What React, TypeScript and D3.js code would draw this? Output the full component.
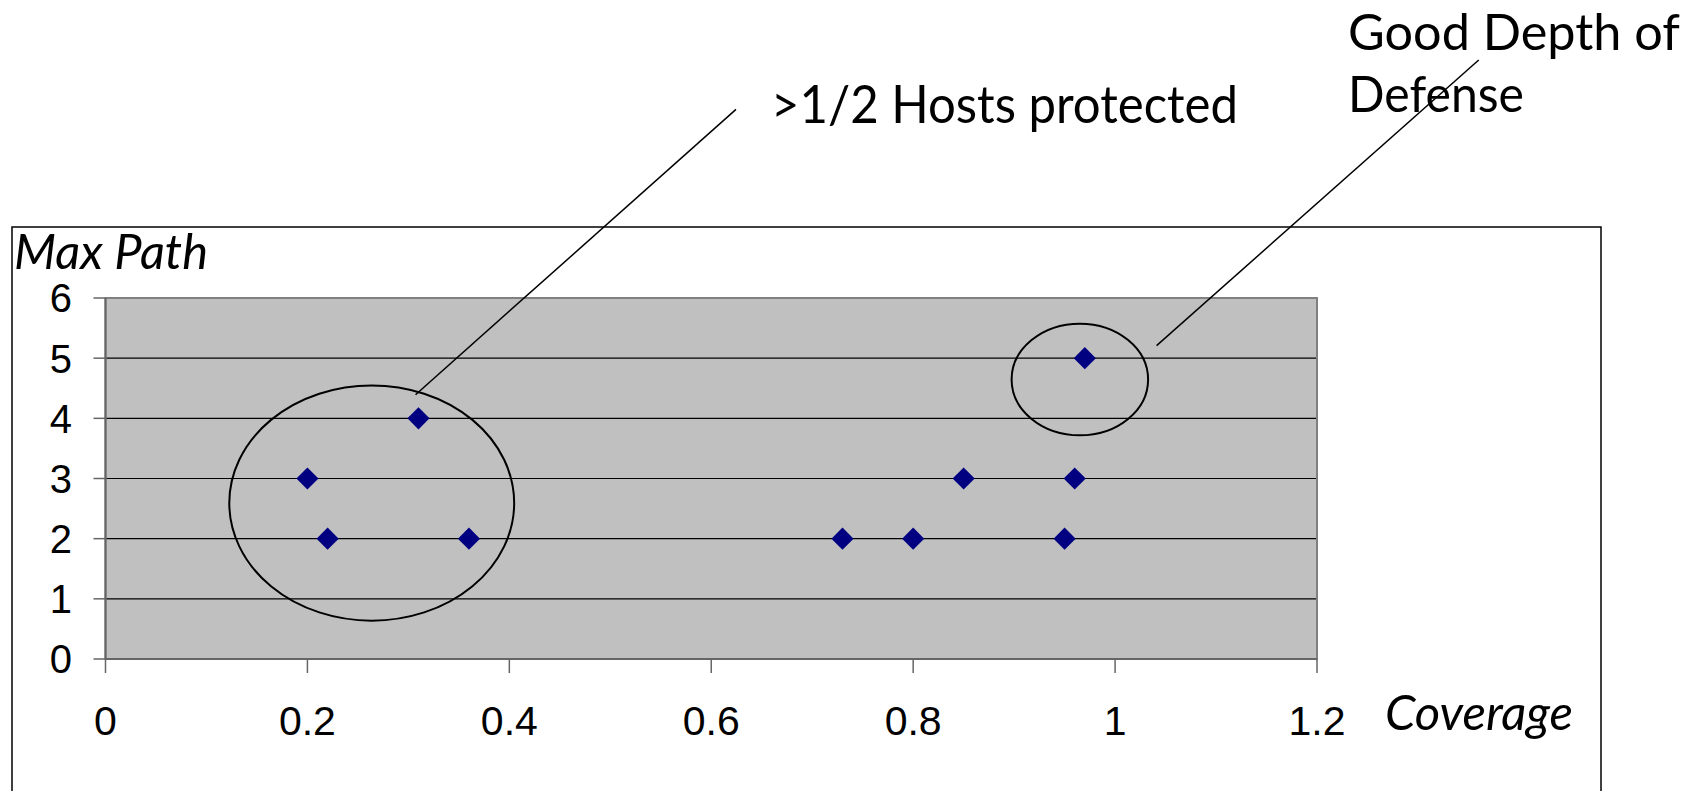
import React from "react";
import * as d3 from "d3";

const coverage = [0.2, 0.22, 0.31, 0.36, 0.73, 0.8, 0.85, 0.95, 0.96, 0.97];
const maxPath = [3, 2, 4, 2, 2, 2, 3, 2, 3, 5];
const xTicks = [0, 0.2, 0.4, 0.6, 0.8, 1, 1.2];
const yTicks = [0, 1, 2, 3, 4, 5, 6];
const xTickLabels = ["0", "0.2", "0.4", "0.6", "0.8", "1", "1.2"];
const yTickLabels = ["0", "1", "2", "3", "4", "5", "6"];

// annotation groups in data units: [cx, cy, rx, ry]
const groupEllipses = [
  [0.2637, 2.592, 0.1411, 1.955],
  [0.9651, 4.645, 0.0676, 0.928],
];
// leader lines in data units: [x1, y1, x2, y2]
const leaderLines = [
  [0.3071, 4.393, 0.6245, 9.135],
  [1.0411, 5.208, 1.3602, 9.955],
];

const W = 1700;
const H = 791;
const plot = { left: 105.5, right: 1317, top: 298, bottom: 659 };
const gill = "'Lato', 'Open Sans', sans-serif";
const arial = "'Liberation Sans', Arial, sans-serif";

export default function App() {
  const x = d3.scaleLinear().domain([0, 1.2]).range([plot.left, plot.right]);
  const y = d3.scaleLinear().domain([0, 6]).range([plot.bottom, plot.top]);
  const diamond = d3.symbol().type(d3.symbolDiamond2).size(2 * 12.5 * 12.5)();

  return (
    <svg width={W} height={H} style={{ position: "absolute", left: 0, top: 0, background: "#fff" }}>
      <rect x={12} y={227} width={1589} height={700} fill="#fff" stroke="#000" strokeWidth={1.5} />
      <rect
        x={plot.left}
        y={plot.top}
        width={plot.right - plot.left}
        height={plot.bottom - plot.top}
        fill="#C0C0C0"
      />
      {yTicks.filter((t) => t > 0 && t < 6).map((t) => (
        <line key={"g" + t} x1={plot.left} x2={plot.right} y1={y(t)} y2={y(t)} stroke="#000" strokeWidth={1.2} />
      ))}
      <rect
        x={plot.left}
        y={plot.top}
        width={plot.right - plot.left}
        height={plot.bottom - plot.top}
        fill="none"
        stroke="#808080"
        strokeWidth={2}
      />
      <line x1={plot.left} x2={plot.left} y1={plot.top} y2={plot.bottom} stroke="#666" strokeWidth={2} />
      <line x1={plot.left} x2={plot.right} y1={plot.bottom} y2={plot.bottom} stroke="#666" strokeWidth={2} />
      {yTicks.map((t, i) => (
        <g key={"yt" + t}>
          <line x1={plot.left - 12} x2={plot.left} y1={y(t)} y2={y(t)} stroke="#666" strokeWidth={1.5} />
          <text x={72} y={y(t)} dy="0.36em" textAnchor="end" fontFamily={arial} fontSize={40} fill="#000">
            {yTickLabels[i]}
          </text>
        </g>
      ))}
      {xTicks.map((t, i) => (
        <g key={"xt" + t}>
          <line x1={x(t)} x2={x(t)} y1={plot.bottom} y2={plot.bottom + 14} stroke="#666" strokeWidth={1.5} />
          <text x={x(t)} y={735} textAnchor="middle" fontFamily={arial} fontSize={41} fill="#000">
            {xTickLabels[i]}
          </text>
        </g>
      ))}
      {coverage.map((c, i) => (
        <path key={"p" + i} d={diamond!} transform={`translate(${x(c)},${y(maxPath[i])})`} fill="#000080" />
      ))}
      {groupEllipses.map(([cx, cy, rx, ry], i) => (
        <ellipse
          key={"e" + i}
          cx={x(cx)}
          cy={y(cy)}
          rx={x(rx) - x(0)}
          ry={y(0) - y(ry)}
          fill="none"
          stroke="#000"
          strokeWidth={2}
        />
      ))}
      {leaderLines.map(([x1, y1, x2, y2], i) => (
        <line key={"l" + i} x1={x(x1)} y1={y(y1)} x2={x(x2)} y2={y(y2)} stroke="#000" strokeWidth={1.5} />
      ))}
      <text x={14} y={269} fontFamily={gill} fontStyle="italic" fontSize={48} fill="#000" textLength={194} lengthAdjust="spacingAndGlyphs">
        Max Path
      </text>
      <text x={1385} y={730} fontFamily={gill} fontStyle="italic" fontSize={49} fill="#000">
        Coverage
      </text>
      <text x={771} y={123} fontFamily={gill} fontSize={52} fill="#000" textLength={467} lengthAdjust="spacingAndGlyphs">
        &gt;1/2 Hosts protected
      </text>
      <text x={1348} y={50} fontFamily={gill} fontSize={50} fill="#000" textLength={332} lengthAdjust="spacingAndGlyphs">
        Good Depth of
      </text>
      <text x={1348} y={112} fontFamily={gill} fontSize={50} fill="#000" textLength={176} lengthAdjust="spacingAndGlyphs">
        Defense
      </text>
    </svg>
  );
}
